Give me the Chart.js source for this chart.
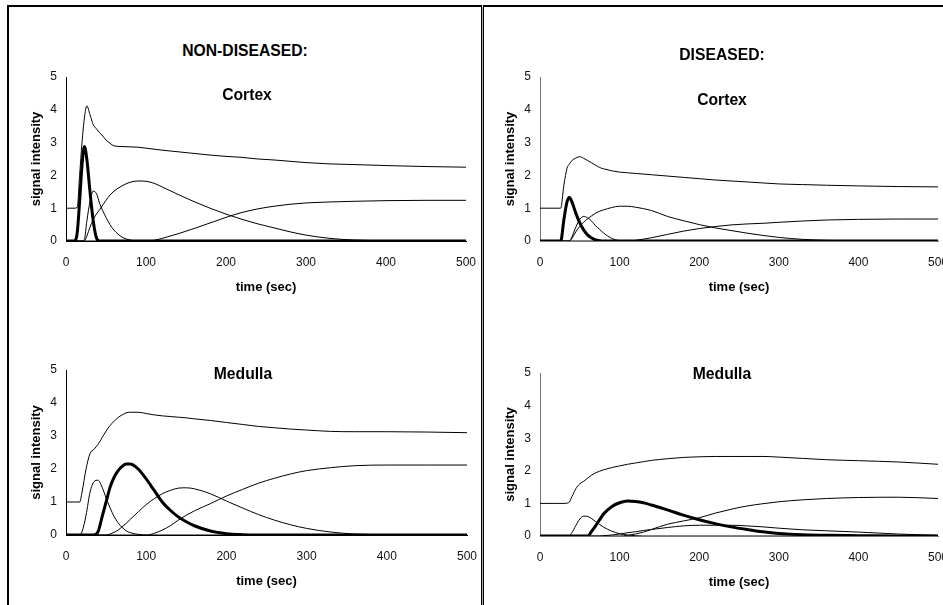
<!DOCTYPE html>
<html>
<head>
<meta charset="utf-8">
<script src="https://cdn.jsdelivr.net/npm/chart.js@4.4.1/dist/chart.umd.min.js"></script>
<style>
  html, body { margin: 0; padding: 0; background: #fff; overflow: hidden; }
  body { width: 943px; height: 605px; position: relative; font-family: "Liberation Sans", Arial, sans-serif; }
  .frame { position: absolute; box-sizing: border-box; }
  .panel { position: absolute; }
  .label { position: absolute; transform: translate(-50%, -50%); font-weight: bold; font-size: 15.7px; color: #000; white-space: nowrap; }
</style>
</head>
<body>
<div class="frame" style="left:7px;top:5px;width:475px;height:620px;border-left:2px solid #000;border-top:2px solid #000;border-right:1px solid #000;"></div>
<div class="frame" style="left:482px;top:7px;width:1px;height:620px;background:#aaa;"></div>
<div class="frame" style="left:483px;top:5px;width:480px;height:620px;border-left:1px solid #000;border-top:2px solid #000;"></div>

<canvas id="cortexNon" class="panel" width="482" height="240" style="left:10px;top:60px;"></canvas>
<canvas id="cortexDis" class="panel" width="480" height="240" style="left:484px;top:60px;"></canvas>
<canvas id="medullaNon" class="panel" width="483" height="241" style="left:10px;top:353px;"></canvas>
<canvas id="medullaDis" class="panel" width="480" height="239" style="left:484px;top:356px;"></canvas>

<div class="label" style="left:245px;top:51px;">NON-DISEASED:</div>
<div class="label" style="left:722px;top:55px;">DISEASED:</div>
<div class="label" style="left:247px;top:95px;">Cortex</div>
<div class="label" style="left:722px;top:100px;">Cortex</div>
<div class="label" style="left:243px;top:374px;">Medulla</div>
<div class="label" style="left:722px;top:374px;">Medulla</div>

<script>
// time axis (sec) and curves for each panel
const timeCortexNon = [0, 10, 14, 17, 20, 23, 26, 30, 34, 38, 42, 46, 50, 55, 60, 70, 80, 90, 100, 110, 120, 140, 160, 180, 200, 220, 240, 260, 280, 300, 330, 360, 400, 450, 500];
const cortexNonTotal = [1, 1, 1.02, 2.0, 3.0, 3.75, 4.12, 3.85, 3.55, 3.42, 3.3, 3.2, 3.08, 2.98, 2.9, 2.88, 2.87, 2.86, 2.83, 2.8, 2.77, 2.72, 2.67, 2.62, 2.58, 2.55, 2.5, 2.47, 2.43, 2.39, 2.35, 2.33, 2.3, 2.27, 2.25];
const cortexNonArterial = [0, 0, 0.25, 1.2, 2.3, 2.88, 2.5, 1.5, 0.62, 0.1, 0, 0, 0, 0, 0, 0, 0, 0, 0, 0, 0, 0, 0, 0, 0, 0, 0, 0, 0, 0, 0, 0, 0, 0, 0];
const cortexNonEarly = [0, 0, 0, 0, 0, 0.05, 0.6, 1.2, 1.52, 1.45, 1.15, 0.92, 0.72, 0.5, 0.33, 0.12, 0.03, 0, 0, 0, 0, 0, 0, 0, 0, 0, 0, 0, 0, 0, 0, 0, 0, 0, 0];
const cortexNonMiddle = [0, 0, 0, 0, 0, 0, 0.15, 0.42, 0.65, 0.82, 0.95, 1.1, 1.24, 1.4, 1.52, 1.68, 1.79, 1.83, 1.82, 1.76, 1.65, 1.42, 1.2, 1.0, 0.82, 0.66, 0.52, 0.4, 0.28, 0.18, 0.08, 0.03, 0.01, 0, 0];
const cortexNonLate = [0, 0, 0, 0, 0, 0, 0, 0, 0, 0, 0, 0, 0, 0, 0, 0, 0, 0, 0, 0.02, 0.08, 0.22, 0.38, 0.55, 0.72, 0.87, 0.98, 1.06, 1.12, 1.16, 1.19, 1.21, 1.23, 1.24, 1.24];

const timeCortexDis = [0, 10, 20, 26, 30, 34, 37, 40, 45, 50, 55, 60, 65, 70, 75, 80, 90, 100, 110, 120, 140, 160, 180, 200, 220, 240, 260, 280, 300, 330, 360, 400, 450, 500];
const cortexDisTotal = [1, 1, 1, 1, 1.7, 2.22, 2.35, 2.45, 2.53, 2.57, 2.52, 2.45, 2.38, 2.31, 2.24, 2.2, 2.14, 2.1, 2.08, 2.06, 2.02, 1.98, 1.94, 1.9, 1.86, 1.83, 1.8, 1.77, 1.74, 1.72, 1.7, 1.68, 1.66, 1.65];
const cortexDisArterial = [0, 0, 0, 0, 0.65, 1.2, 1.33, 1.2, 0.85, 0.55, 0.33, 0.18, 0.09, 0.03, 0.01, 0, 0, 0, 0, 0, 0, 0, 0, 0, 0, 0, 0, 0, 0, 0, 0, 0, 0, 0];
const cortexDisEarly = [0, 0, 0, 0, 0, 0, 0, 0.12, 0.42, 0.66, 0.75, 0.7, 0.6, 0.46, 0.35, 0.24, 0.08, 0.01, 0, 0, 0, 0, 0, 0, 0, 0, 0, 0, 0, 0, 0, 0, 0, 0];
const cortexDisMiddle = [0, 0, 0, 0, 0, 0, 0, 0.08, 0.28, 0.45, 0.58, 0.68, 0.77, 0.85, 0.91, 0.95, 1.02, 1.06, 1.06, 1.03, 0.93, 0.75, 0.62, 0.5, 0.4, 0.32, 0.24, 0.17, 0.11, 0.05, 0.02, 0.01, 0, 0];
const cortexDisLate = [0, 0, 0, 0, 0, 0, 0, 0, 0, 0, 0, 0, 0, 0, 0, 0, 0, 0, 0, 0.02, 0.1, 0.2, 0.3, 0.38, 0.44, 0.49, 0.52, 0.54, 0.57, 0.61, 0.64, 0.66, 0.67, 0.67];

const timeMedullaNon = [0, 10, 17, 20, 25, 30, 35, 40, 45, 50, 55, 60, 65, 70, 75, 80, 90, 100, 110, 120, 130, 140, 150, 160, 180, 200, 220, 240, 260, 280, 300, 330, 360, 400, 450, 500];
const medullaNonTotal = [1, 1, 1, 1.3, 2.0, 2.47, 2.6, 2.75, 2.95, 3.15, 3.32, 3.45, 3.56, 3.64, 3.7, 3.72, 3.72, 3.68, 3.64, 3.61, 3.59, 3.57, 3.55, 3.52, 3.47, 3.41, 3.35, 3.29, 3.25, 3.21, 3.18, 3.14, 3.13, 3.13, 3.12, 3.1];
const medullaNonArterial = [0, 0, 0, 0, 0, 0, 0, 0.1, 0.55, 1.0, 1.45, 1.75, 1.95, 2.08, 2.15, 2.15, 2.0, 1.7, 1.35, 1.0, 0.75, 0.55, 0.4, 0.28, 0.12, 0.04, 0.01, 0, 0, 0, 0, 0, 0, 0, 0, 0];
const medullaNonEarly = [0, 0, 0, 0.1, 0.6, 1.3, 1.62, 1.66, 1.45, 1.12, 0.82, 0.56, 0.37, 0.23, 0.13, 0.07, 0.02, 0, 0, 0, 0, 0, 0, 0, 0, 0, 0, 0, 0, 0, 0, 0, 0, 0, 0, 0];
const medullaNonMiddle = [0, 0, 0, 0, 0, 0, 0, 0, 0, 0, 0.03, 0.08, 0.15, 0.25, 0.35, 0.47, 0.7, 0.92, 1.1, 1.25, 1.35, 1.42, 1.43, 1.4, 1.25, 1.03, 0.82, 0.62, 0.45, 0.31, 0.2, 0.09, 0.03, 0.01, 0, 0];
const medullaNonLate = [0, 0, 0, 0, 0, 0, 0, 0, 0, 0, 0, 0, 0, 0, 0, 0, 0, 0, 0.05, 0.15, 0.28, 0.45, 0.6, 0.73, 0.95, 1.18, 1.38, 1.57, 1.72, 1.85, 1.95, 2.04, 2.1, 2.12, 2.12, 2.12];

const timeMedullaDis = [0, 10, 20, 30, 36, 40, 45, 50, 55, 60, 65, 70, 75, 80, 90, 100, 110, 120, 130, 140, 160, 180, 200, 220, 240, 260, 280, 300, 330, 360, 400, 450, 500];
const medullaDisTotal = [1, 1, 1, 1, 1.02, 1.2, 1.45, 1.6, 1.68, 1.78, 1.87, 1.94, 1.99, 2.03, 2.1, 2.15, 2.2, 2.24, 2.28, 2.32, 2.37, 2.41, 2.43, 2.44, 2.44, 2.44, 2.44, 2.42, 2.38, 2.34, 2.31, 2.27, 2.2];
const medullaDisArterial = [0, 0, 0, 0, 0, 0, 0, 0, 0, 0, 0.15, 0.32, 0.5, 0.68, 0.9, 1.02, 1.07, 1.06, 1.02, 0.95, 0.8, 0.64, 0.5, 0.38, 0.28, 0.2, 0.13, 0.08, 0.04, 0.02, 0.01, 0, 0];
const medullaDisEarly = [0, 0, 0, 0, 0, 0.1, 0.32, 0.52, 0.61, 0.6, 0.53, 0.44, 0.35, 0.27, 0.15, 0.07, 0.03, 0.01, 0, 0, 0, 0, 0, 0, 0, 0, 0, 0, 0, 0, 0, 0, 0];
const medullaDisMiddle = [0, 0, 0, 0, 0, 0, 0, 0, 0, 0, 0, 0, 0, 0.01, 0.03, 0.06, 0.1, 0.13, 0.17, 0.2, 0.26, 0.31, 0.33, 0.33, 0.33, 0.31, 0.28, 0.24, 0.19, 0.16, 0.12, 0.06, 0.02];
const medullaDisLate = [0, 0, 0, 0, 0, 0, 0, 0, 0, 0, 0, 0, 0, 0, 0, 0, 0.02, 0.06, 0.12, 0.2, 0.36, 0.46, 0.56, 0.7, 0.82, 0.92, 0.99, 1.05, 1.11, 1.15, 1.18, 1.19, 1.15];

const xTicks = [0, 100, 200, 300, 400, 500];
const yTicks = [0, 1, 2, 3, 4, 5];

Chart.defaults.font.family = '"Liberation Sans", Arial, sans-serif';
Chart.defaults.color = '#000';

function points(time, values) {
    return values.map((v, i) => ({ x: time[i], y: v }));
}

function curve(time, values, width) {
    return {
        data: points(time, values),
        borderColor: '#000',
        borderWidth: width,
        pointRadius: 0,
        fill: false,
        cubicInterpolationMode: 'monotone'
    };
}

// series order: arterial, total, early, middle, late
function makePanel(id, time, series, axisColor) {
    const datasets = [
        curve(time, series[1], 1),
        curve(time, series[2], 1),
        curve(time, series[3], 1),
        curve(time, series[4], 1),
        curve(time, series[0], 3)  // arterial curve on top, thick
    ];
    return new Chart(document.getElementById(id), {
        type: 'line',
        data: { datasets: datasets },
        options: {
            responsive: false,
            animation: false,
            layout: { padding: { top: 17, right: 26, left: 0, bottom: 0 } },
            plugins: { legend: { display: false }, tooltip: { enabled: false } },
            scales: {
                x: {
                    type: 'linear',
                    min: 0,
                    max: 500,
                    afterFit: (s) => { s.height = 59; },
                    afterBuildTicks: (s) => { s.ticks = xTicks.map(v => ({ value: v })); },
                    grid: { display: false, drawTicks: false },
                    border: { display: true, color: axisColor, width: 1 },
                    ticks: { padding: 14, font: { size: 12 }, color: '#111', maxRotation: 0 },
                    title: { display: true, text: 'time (sec)', font: { size: 13, weight: 'bold' }, padding: { bottom: 5, top: 0 } }
                },
                y: {
                    min: 0,
                    max: 5,
                    afterFit: (s) => { s.width = 56; },
                    afterBuildTicks: (s) => { s.ticks = yTicks.map(v => ({ value: v })); },
                    grid: { display: false, drawTicks: false },
                    border: { display: true, color: axisColor, width: 1 },
                    ticks: { padding: 9, font: { size: 12 }, color: '#111' },
                    title: { display: true, text: 'signal intensity', font: { size: 13, weight: 'bold' }, padding: { top: 19, bottom: 0 } }
                }
            }
        }
    });
}

makePanel('cortexNon', timeCortexNon,
    [cortexNonArterial, cortexNonTotal, cortexNonEarly, cortexNonMiddle, cortexNonLate], '#000');
makePanel('cortexDis', timeCortexDis,
    [cortexDisArterial, cortexDisTotal, cortexDisEarly, cortexDisMiddle, cortexDisLate], '#777');
makePanel('medullaNon', timeMedullaNon,
    [medullaNonArterial, medullaNonTotal, medullaNonEarly, medullaNonMiddle, medullaNonLate], '#000');
makePanel('medullaDis', timeMedullaDis,
    [medullaDisArterial, medullaDisTotal, medullaDisEarly, medullaDisMiddle, medullaDisLate], '#777');
</script>
</body>
</html>
